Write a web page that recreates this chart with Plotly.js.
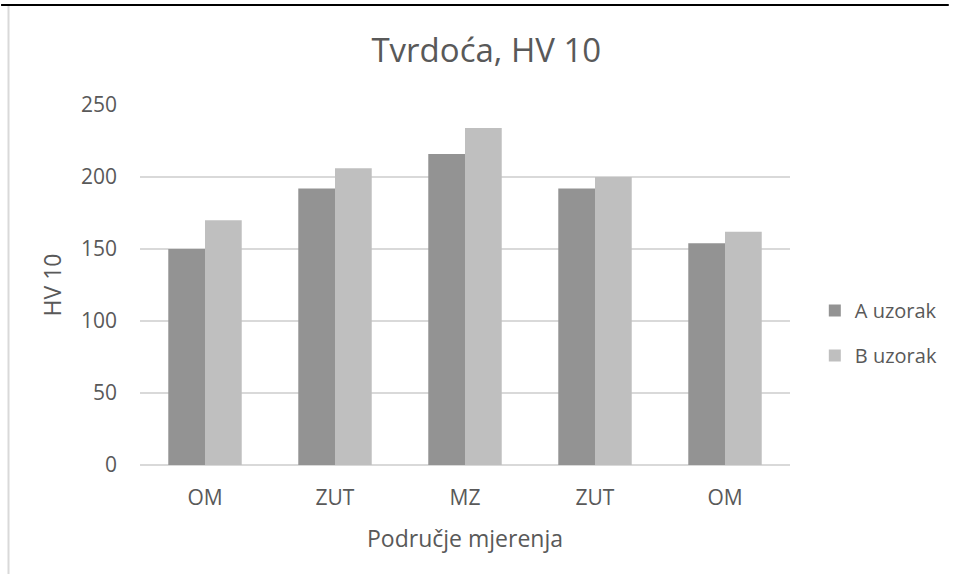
<!DOCTYPE html>
<html>
<head>
<meta charset="utf-8">
<script src="https://cdn.plot.ly/plotly-3.0.1.min.js"></script>
<style>
  html, body { margin: 0; padding: 0; background: #ffffff; }
  #chart { width: 955px; height: 574px; }
</style>
</head>
<body>
<div id="chart"></div>
<script>
// ---- data ----
var categories = ["OM", "ZUT", "MZ", "ZUT", "OM"];
var positions = [0, 1, 2, 3, 4];
var seriesNames = ["A uzorak", "B uzorak"];
var valuesA = [150, 192, 216, 192, 154];
var valuesB = [170, 206, 234, 200, 162];
var yTicks = [0, 50, 100, 150, 200, 250];

var FONT = "'Open Sans', sans-serif";
var TXT = "#595959";

var traces = [
  {
    type: "bar", name: seriesNames[0], x: positions, y: valuesA,
    marker: { color: "#939393" }, legendgroup: "a", hoverinfo: "y"
  },
  {
    type: "bar", name: seriesNames[1], x: positions, y: valuesB,
    marker: { color: "#bfbfbf" }, legendgroup: "b", hoverinfo: "y"
  }
];

// plot area in pixels: x 140..795, y 105..465
var L = 140, R = 795, T = 105, B = 465;
function px(x) { return (x - L) / (R - L); }
function py(y) { return (B - y) / (B - T); }

var layout = {
  width: 955, height: 574,
  paper_bgcolor: "#ffffff", plot_bgcolor: "#ffffff",
  margin: { l: L, r: 955 - R, t: T, b: 574 - B, pad: 0 },
  font: { family: FONT, color: TXT, size: 21 },
  title: {
    text: "Tvrdoća, HV 10",
    font: { family: FONT, size: 33, color: TXT },
    xref: "paper", x: px(489), xanchor: "center",
    yref: "container", y: 1 - 50 / 574, yanchor: "middle"
  },
  barmode: "group",
  bargap: 0.435,
  bargroupgap: 0,
  showlegend: true,
  legend: {
    x: px(820), xanchor: "left", y: py(333), yanchor: "middle",
    font: { family: FONT, size: 20, color: TXT },
    traceorder: "grouped", tracegroupgap: 16,
    bgcolor: "rgba(0,0,0,0)", borderwidth: 0
  },
  xaxis: {
    type: "linear",
    range: [-0.5, 4.5],
    tickmode: "array", tickvals: positions, ticktext: categories,
    showgrid: false, zeroline: false, showline: false,
    ticks: "", ticklabelstandoff: 18,
    tickfont: { family: FONT, size: 21, color: TXT },
    title: { text: "Područje mjerenja", font: { family: FONT, size: 23, color: TXT }, standoff: 20 },
    automargin: false, fixedrange: true
  },
  yaxis: {
    range: [0, 250],
    tickmode: "array", tickvals: yTicks,
    showgrid: true, gridcolor: "#d9d9d9", gridwidth: 1.3,
    zeroline: true, zerolinecolor: "#d9d9d9", zerolinewidth: 1.3,
    showline: false, ticks: "", ticklabelstandoff: 22,
    tickfont: { family: FONT, size: 21, color: TXT },
    title: { text: "HV 10", font: { family: FONT, size: 23, color: TXT }, standoff: 12 },
    automargin: false, fixedrange: true
  },
  shapes: [
    { type: "line", xref: "paper", yref: "paper",
      x0: px(0), x1: px(955), y0: py(5), y1: py(5),
      line: { color: "#000000", width: 2 } },
    { type: "line", xref: "paper", yref: "paper",
      x0: px(7.5), x1: px(7.5), y0: py(6), y1: py(574),
      line: { color: "#d9d9d9", width: 2 } }
  ]
};

Plotly.newPlot("chart", traces, layout, { displayModeBar: false, staticPlot: true });
</script>
</body>
</html>
